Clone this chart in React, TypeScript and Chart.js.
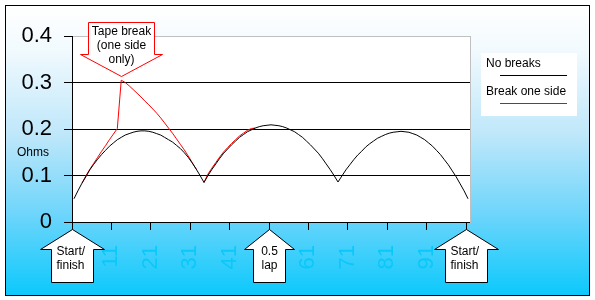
import { useEffect, useRef } from "react";
import { Chart, registerables } from "chart.js";

Chart.register(...registerables);

// Measuring positions round the loop (1 = start/finish, 51 = half lap, 101 = back at start/finish)
const positions: number[] = Array.from({ length: 101 }, (_, i) => i + 1);

// Loop resistance with the tape intact
const noBreaks: number[] = [
  0.050, 0.067, 0.083, 0.097, 0.112, 0.124, 0.135, 0.145, 0.154, 0.163,
  0.170, 0.177, 0.182, 0.187, 0.190, 0.193, 0.195, 0.196, 0.196, 0.195,
  0.193, 0.190, 0.187, 0.182, 0.177, 0.172, 0.165, 0.158, 0.149, 0.139,
  0.127, 0.114, 0.100, 0.085,
  0.100, 0.113, 0.125, 0.137, 0.148, 0.157, 0.166, 0.174, 0.182, 0.188,
  0.194, 0.198, 0.202, 0.205, 0.207, 0.208, 0.209, 0.208, 0.207, 0.205,
  0.202, 0.198, 0.194, 0.188, 0.182, 0.174, 0.166, 0.157, 0.148, 0.137,
  0.125, 0.113, 0.100, 0.086,
  0.099, 0.112, 0.123, 0.134, 0.144, 0.152, 0.161, 0.168, 0.174, 0.180,
  0.184, 0.188, 0.191, 0.193, 0.194, 0.195, 0.194, 0.193, 0.190, 0.187,
  0.182, 0.177, 0.170, 0.163, 0.154, 0.145, 0.134, 0.123, 0.110, 0.097,
  0.082, 0.067, 0.050,
];

// Loop resistance with the tape broken on one side near position 13
const breakOneSide: number[] = [
  0.050, 0.067, 0.083, 0.099, 0.113, 0.126, 0.139, 0.152, 0.164, 0.177,
  0.189, 0.201, 0.305, 0.300, 0.293, 0.285, 0.277, 0.269, 0.260, 0.252,
  0.243, 0.234, 0.224, 0.213, 0.202, 0.191, 0.179, 0.167, 0.155, 0.142,
  0.128, 0.114, 0.100, 0.085,
  0.103, 0.116, 0.128, 0.140, 0.151, 0.160, 0.169, 0.177, 0.185, 0.191,
  0.197, 0.201, 0.202, 0.205, 0.207, 0.208, 0.209, 0.208, 0.207, 0.205,
  0.202, 0.198, 0.194, 0.188, 0.182, 0.174, 0.166, 0.157, 0.148, 0.137,
  0.125, 0.113, 0.100, 0.086,
  0.099, 0.112, 0.123, 0.134, 0.144, 0.152, 0.161, 0.168, 0.174, 0.180,
  0.184, 0.188, 0.191, 0.193, 0.194, 0.195, 0.194, 0.193, 0.190, 0.187,
  0.182, 0.177, 0.170, 0.163, 0.154, 0.145, 0.134, 0.123, 0.110, 0.097,
  0.082, 0.067, 0.050,
];

const xTickLabels: string[] = ["1", "11", "21", "31", "41", "51", "61", "71", "81", "91", "101"];
const yTickLabels: string[] = ["0", "0.1", "0.2", "0.3", "0.4"];

const seriesNames: string[] = ["No breaks", "Break one side"];
const seriesColors: string[] = ["#000000", "#FF0000"];

const FONT = "'Liberation Sans', Arial, sans-serif";

type UpArrow = { at: number; lines: string[]; wing: number; half: number; align: "left" | "center" };

const markers: UpArrow[] = [
  { at: 1, lines: ["Start/", "finish"], wing: 32, half: 21, align: "left" },
  { at: 51, lines: ["0.5", "lap"], wing: 25, half: 16, align: "center" },
  { at: 101, lines: ["Start/", "finish"], wing: 32, half: 21, align: "left" },
];

const backdrop = {
  id: "backdrop",
  beforeDraw(chart: Chart) {
    const { ctx, chartArea } = chart;
    const w = chart.width;
    const h = chart.height;
    ctx.save();
    ctx.fillStyle = "#FFFFFF";
    ctx.fillRect(0, 0, w, h);
    const g = ctx.createLinearGradient(0, 5, 0, 295);
    g.addColorStop(0, "#FFFFFF");
    g.addColorStop(0.15, "#F2FAFE");
    g.addColorStop(0.45, "#BEE7FA");
    g.addColorStop(0.72, "#6ED5FB");
    g.addColorStop(1, "#0CC9FC");
    ctx.fillStyle = g;
    ctx.fillRect(5, 5, 585, 291);
    ctx.strokeStyle = "#000000";
    ctx.lineWidth = 1;
    ctx.strokeRect(5.5, 5.5, 584, 290);
    ctx.fillStyle = "#FFFFFF";
    ctx.fillRect(chartArea.left, chartArea.top, chartArea.right - chartArea.left, chartArea.bottom - chartArea.top);
    ctx.restore();
  },
  afterDraw(chart: Chart) {
    const { ctx, chartArea } = chart;
    const xs = chart.scales.x;
    const ys = chart.scales.y;
    ctx.save();

    // plot-area frame on the right
    ctx.strokeStyle = "#C0C0C0";
    ctx.lineWidth = 1;
    const rx = Math.round(chartArea.right) + 0.5;
    ctx.beginPath();
    ctx.moveTo(rx, Math.round(chartArea.top));
    ctx.lineTo(rx, Math.round(chartArea.bottom) + 1);
    ctx.stroke();

    // axis title
    ctx.fillStyle = "#000000";
    ctx.font = `12px ${FONT}`;
    ctx.textAlign = "left";
    ctx.textBaseline = "alphabetic";
    ctx.fillText("Ohms", 17, 156);

    // callout pointing at the break
    let peak = 0;
    breakOneSide.forEach((v, i) => {
      if (v > breakOneSide[peak]) peak = i;
    });
    const tx = Math.round(xs.getPixelForValue(positions[peak])) + 0.5;
    const ty = Math.round(ys.getPixelForValue(breakOneSide[peak])) - 4 + 0.5;
    ctx.beginPath();
    ctx.moveTo(tx - 33, ty - 54);
    ctx.lineTo(tx + 33, ty - 54);
    ctx.lineTo(tx + 33, ty - 22);
    ctx.lineTo(tx + 41, ty - 22);
    ctx.lineTo(tx, ty);
    ctx.lineTo(tx - 41, ty - 22);
    ctx.lineTo(tx - 33, ty - 22);
    ctx.closePath();
    ctx.fillStyle = "#FFFFFF";
    ctx.fill();
    ctx.strokeStyle = "#FF0000";
    ctx.stroke();
    ctx.fillStyle = "#000000";
    ctx.textAlign = "center";
    ["Tape break", "(one side", "only)"].forEach((t, i) => {
      ctx.fillText(t, tx, ty - 42 + i * 14);
    });

    // position markers under the axis
    const base = Math.round(chartArea.bottom);
    markers.forEach((m) => {
      const mx = Math.round(xs.getPixelForValue(m.at - 0.5)) + 0.5;
      const tip = base + 7.5;
      const wingY = base + 27.5;
      const bottom = base + 60.5;
      ctx.beginPath();
      ctx.moveTo(mx, tip);
      ctx.lineTo(mx + m.wing, wingY);
      ctx.lineTo(mx + m.half, wingY);
      ctx.lineTo(mx + m.half, bottom);
      ctx.lineTo(mx - m.half, bottom);
      ctx.lineTo(mx - m.half, wingY);
      ctx.lineTo(mx - m.wing, wingY);
      ctx.closePath();
      ctx.fillStyle = "#FFFFFF";
      ctx.fill();
      ctx.strokeStyle = "#000000";
      ctx.stroke();
      ctx.fillStyle = "#000000";
      ctx.textAlign = m.align;
      const lx = m.align === "left" ? mx - 16 : mx;
      m.lines.forEach((t, i) => ctx.fillText(t, lx, base + 33 + i * 14));
    });

    // legend
    const lx = Math.round(chartArea.right) + 11;
    const ly = 53;
    ctx.fillStyle = "#FFFFFF";
    ctx.fillRect(lx, ly, 96, 63);
    ctx.textAlign = "left";
    chart.data.datasets.forEach((ds, i) => {
      ctx.fillStyle = "#000000";
      ctx.fillText(String(ds.label), lx + 5, ly + 14 + i * 28);
      ctx.strokeStyle = seriesColors[i];
      ctx.beginPath();
      ctx.moveTo(lx + 19, ly + 22.5 + i * 28);
      ctx.lineTo(lx + 86, ly + 22.5 + i * 28);
      ctx.stroke();
    });

    ctx.restore();
  },
};

export default function App() {
  const canvasRef = useRef<HTMLCanvasElement | null>(null);

  useEffect(() => {
    const canvas = canvasRef.current;
    if (!canvas) return;

    const sameAsIntact = (i: number) => breakOneSide[i] === noBreaks[i];

    const chart = new Chart(canvas, {
      type: "line",
      data: {
        datasets: [
          {
            label: seriesNames[0],
            data: positions.map((p, i) => ({ x: p, y: noBreaks[i] })),
            borderColor: seriesColors[0],
            borderWidth: 1,
            pointRadius: 0,
            tension: 0,
          },
          {
            label: seriesNames[1],
            data: positions.map((p, i) => ({ x: p, y: breakOneSide[i] })),
            borderColor: seriesColors[1],
            borderWidth: 1,
            pointRadius: 0,
            tension: 0,
            segment: {
              borderColor: (c: any) =>
                sameAsIntact(c.p0DataIndex) && sameAsIntact(c.p1DataIndex) ? "rgba(0,0,0,0)" : seriesColors[1],
            },
          },
        ],
      },
      options: {
        animation: false,
        responsive: false,
        devicePixelRatio: 1,
        layout: { padding: { left: 10, top: 36, right: 125, bottom: 28 } },
        plugins: {
          legend: { display: false },
          tooltip: { enabled: false },
        },
        scales: {
          x: {
            type: "linear",
            min: 0.5,
            max: 101.5,
            afterBuildTicks: (axis: any) => {
              axis.ticks = xTickLabels.map((l) => ({ value: Number(l) - 0.5 }));
            },
            afterFit: (axis: any) => {
              axis.height = 50;
            },
            ticks: {
              autoSkip: false,
              minRotation: 90,
              maxRotation: 90,
              padding: 15,
              color: "#0BC8FA",
              font: { family: FONT, size: 22 },
              callback: (_v: any, i: number) => xTickLabels[i],
            },
            grid: {
              drawOnChartArea: false,
              drawTicks: true,
              tickLength: 8,
              tickColor: "#000000",
            },
            border: { color: "#000000", width: 1 },
          },
          y: {
            min: 0,
            max: 0.4,
            afterFit: (axis: any) => {
              axis.width = 62;
            },
            ticks: {
              stepSize: 0.1,
              padding: 12,
              color: "#000000",
              font: { family: FONT, size: 22 },
              callback: (_v: any, i: number) => yTickLabels[i],
            },
            grid: {
              color: (c: any) => (c.tick && c.tick.value >= 0.399 ? "#C0C0C0" : "#000000"),
              tickColor: "#000000",
              tickLength: 8,
              lineWidth: 1,
            },
            border: { color: "#000000", width: 1 },
          },
        },
      },
      plugins: [backdrop],
    });

    return () => chart.destroy();
  }, []);

  return (
    <div style={{ position: "fixed", left: 0, top: 0, width: 595, height: 300 }}>
      <canvas ref={canvasRef} width={595} height={300} style={{ display: "block" }} />
    </div>
  );
}
